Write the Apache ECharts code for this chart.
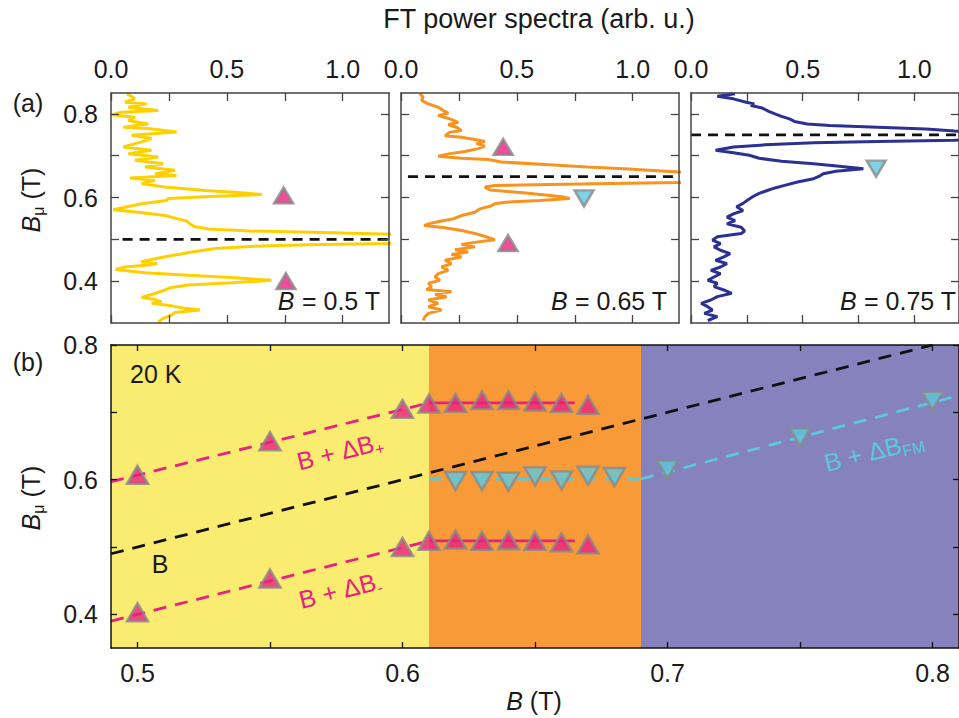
<!DOCTYPE html>
<html><head><meta charset="utf-8">
<script src="https://cdn.jsdelivr.net/npm/echarts@6/dist/echarts.min.js"></script>
<style>html,body{margin:0;padding:0;background:#fff}#c{width:959px;height:718px}</style>
</head><body><div id="c"></div>
<script>
// ---------- DATA ----------
// Panel (a): FT power spectra, B = 0.5, 0.65, 0.75 T  (Bmu in T, power in arb. u.)
const panelFields = [0.5, 0.65, 0.75];
const spec050Bmu = [0.848,0.844,0.836,0.828,0.824,0.816,0.808,0.804,0.798,0.792,0.784,0.776,0.768,0.765,0.757,0.749,0.741,0.733,0.721,0.713,0.705,0.697,0.689,0.681,0.673,0.665,0.657,0.653,0.647,0.641,0.633,0.625,0.617,0.612,0.607,0.602,0.598,0.593,0.585,0.577,0.571,0.565,0.557,0.549,0.544,0.537,0.531,0.525,0.520,0.515,0.512,0.504,0.490,0.487,0.483,0.478,0.470,0.462,0.455,0.450,0.446,0.442,0.438,0.434,0.428,0.420,0.414,0.409,0.402,0.396,0.391,0.385,0.379,0.371,0.361,0.356,0.351,0.347,0.341,0.335,0.331,0.325,0.319,0.311,0.303];
const spec050Pow = [0.068,0.082,0.103,0.060,0.154,0.075,0.204,0.046,0.003,0.103,0.075,0.161,0.053,0.161,0.283,0.089,0.175,0.132,0.053,0.175,0.075,0.204,0.103,0.225,0.147,0.276,0.190,0.283,0.082,0.190,0.132,0.233,0.405,0.549,0.650,0.405,0.247,0.240,0.132,0.060,0.010,0.118,0.233,0.290,0.326,0.340,0.360,0.420,0.600,1.000,1.250,1.600,1.200,0.850,0.600,0.450,0.350,0.270,0.200,0.160,0.130,0.200,0.150,0.060,0.020,0.147,0.333,0.520,0.693,0.520,0.333,0.261,0.233,0.190,0.132,0.190,0.218,0.175,0.261,0.319,0.384,0.276,0.261,0.225,0.204];
const spec065Bmu = [0.848,0.840,0.832,0.824,0.816,0.808,0.802,0.796,0.788,0.780,0.774,0.768,0.760,0.756,0.748,0.744,0.739,0.734,0.729,0.723,0.717,0.710,0.705,0.699,0.694,0.691,0.685,0.679,0.673,0.668,0.661,0.648,0.636,0.633,0.629,0.625,0.618,0.610,0.602,0.598,0.593,0.589,0.585,0.579,0.573,0.565,0.557,0.549,0.544,0.537,0.533,0.528,0.521,0.514,0.506,0.499,0.494,0.488,0.482,0.475,0.470,0.464,0.458,0.450,0.442,0.434,0.426,0.418,0.410,0.402,0.395,0.387,0.380,0.375,0.368,0.363,0.355,0.347,0.339,0.331,0.323,0.315,0.306];
const spec065Pow = [0.082,0.096,0.089,0.118,0.161,0.182,0.204,0.161,0.211,0.247,0.204,0.240,0.261,0.211,0.190,0.261,0.319,0.362,0.326,0.362,0.333,0.276,0.211,0.161,0.261,0.376,0.434,0.621,0.807,0.980,1.198,1.700,1.198,0.836,0.405,0.362,0.384,0.549,0.693,0.728,0.600,0.450,0.405,0.384,0.341,0.319,0.261,0.225,0.175,0.118,0.100,0.190,0.261,0.319,0.369,0.405,0.333,0.261,0.319,0.233,0.290,0.218,0.261,0.190,0.218,0.175,0.204,0.161,0.147,0.168,0.118,0.132,0.110,0.218,0.147,0.197,0.118,0.161,0.118,0.175,0.118,0.103,0.096];
const spec075Bmu = [0.848,0.842,0.836,0.828,0.824,0.820,0.814,0.806,0.800,0.794,0.788,0.782,0.776,0.772,0.768,0.764,0.759,0.748,0.737,0.734,0.731,0.726,0.721,0.713,0.707,0.701,0.694,0.687,0.681,0.675,0.669,0.663,0.657,0.652,0.645,0.637,0.629,0.623,0.618,0.610,0.602,0.594,0.586,0.578,0.569,0.561,0.553,0.545,0.537,0.529,0.520,0.514,0.506,0.498,0.490,0.482,0.474,0.466,0.458,0.450,0.442,0.434,0.426,0.418,0.410,0.402,0.395,0.387,0.379,0.371,0.363,0.355,0.347,0.339,0.331,0.323,0.315,0.306];
const spec075Pow = [0.197,0.118,0.190,0.247,0.283,0.268,0.319,0.348,0.376,0.405,0.441,0.463,0.520,0.621,0.836,1.052,1.180,1.700,1.180,0.836,0.549,0.333,0.190,0.110,0.190,0.261,0.305,0.405,0.549,0.664,0.772,0.649,0.592,0.578,0.549,0.477,0.419,0.376,0.348,0.305,0.276,0.254,0.233,0.204,0.233,0.190,0.161,0.197,0.161,0.225,0.240,0.225,0.118,0.096,0.132,0.103,0.132,0.175,0.147,0.110,0.161,0.132,0.089,0.132,0.103,0.075,0.118,0.103,0.147,0.182,0.118,0.089,0.046,0.075,0.096,0.060,0.118,0.075];
const dashStartPow = [0.05, 0.03, 0.0];
// peak markers in (a)
const upMarkPanel = [0, 0, 1, 1];
const upMarkPow   = [0.745, 0.755, 0.441, 0.462];
const upMarkBmu   = [0.605, 0.400, 0.721, 0.491];
const dnMarkPanel = [1, 2];
const dnMarkPow   = [0.790, 0.829];
const dnMarkBmu   = [0.598, 0.669];

// Panel (b): Bmu vs B at 20 K
const plusB   = [0.50,0.55,0.60,0.61,0.62,0.63,0.64,0.65,0.66,0.67];
const plusBmu = [0.607,0.657,0.705,0.713,0.714,0.718,0.718,0.716,0.714,0.711];
const minusB   = [0.50,0.55,0.60,0.61,0.62,0.63,0.64,0.65,0.66,0.67];
const minusBmu = [0.403,0.453,0.500,0.509,0.511,0.509,0.510,0.509,0.507,0.504];
const fmB   = [0.62,0.63,0.64,0.65,0.66,0.67,0.68,0.70,0.75,0.80];
const fmBmu = [0.598,0.598,0.597,0.605,0.599,0.606,0.604,0.615,0.663,0.717];
const plusDashB = [0.49, 0.61],  plusDashBmu = [0.597, 0.714];
const plusFlatB = [0.61, 0.665], plusFlatBmu = [0.714, 0.714];
const minusDashB = [0.49, 0.61],  minusDashBmu = [0.390, 0.509];
const minusFlatB = [0.61, 0.665], minusFlatBmu = [0.509, 0.509];
const fmFlatB = [0.61, 0.69], fmFlatBmu = [0.601, 0.601];
const fmDashB = [0.69, 0.81], fmDashBmu = [0.601, 0.725];
const diagB = [0.49, 0.80], diagBmu = [0.49, 0.80];
const bandEdges = [0.49, 0.61, 0.69, 0.81];

// tick labels
const topXTicks = [0, 0.25, 0.5, 0.75, 1.0], topXLabels = [0, 0.5, 1.0];
const topYTicks = [0.4, 0.5, 0.6, 0.7, 0.8], topYLabels = [0.4, 0.6, 0.8];
const botXTicks = [0.5, 0.55, 0.6, 0.65, 0.7, 0.75, 0.8], botXLabels = [0.5, 0.6, 0.7, 0.8];
const botYTicks = [0.4, 0.5, 0.6, 0.7, 0.8], botYLabels = [0.4, 0.6, 0.8];

// ---------- STYLE ----------
const FONT = '"Liberation Sans", Arial, Helvetica, sans-serif';
const TXT = '#1a1a1a';
const specColors = ['#ffd000', '#f7931e', '#2b3192'];
const PINK = '#e8207f', CYAN = '#5cc8dd', MGREY = '#8a8a8a';
const bandColors = ['#f9ec70', '#f89a38', '#8682bd'];
const topLeft = [111, 401, 691];

const zip = (a, b) => a.map((v, i) => [v, b[i]]);
const grids = [], xAxes = [], yAxes = [], series = [];

function mkX(gi, pos, labels, min, max, ticks, labs, col, tl) {
  return {type:'value', gridIndex:gi, position:pos, min:min, max:max, z:6,
    axisLine:{show:true, onZero:false, lineStyle:{color:col, width:1.5}},
    axisTick:{show:true, inside:true, length:tl, customValues:ticks, lineStyle:{color:col, width:1.3}},
    axisLabel:{show:labels, customValues:labs, margin:12, fontSize:25, fontFamily:FONT, color:TXT,
      formatter:v=>Number(v).toFixed(1)},
    splitLine:{show:false}};
}
function mkY(gi, pos, labels, min, max, ticks, labs, col, tl) {
  return {type:'value', gridIndex:gi, position:pos, min:min, max:max, z:6,
    axisLine:{show:true, onZero:false, lineStyle:{color:col, width:1.5}},
    axisTick:{show:true, inside:true, length:tl, customValues:ticks, lineStyle:{color:col, width:1.3}},
    axisLabel:{show:labels, customValues:labs, margin:13, fontSize:25, fontFamily:FONT, color:TXT,
      formatter:v=>Number(v).toFixed(1)},
    splitLine:{show:false}};
}

const specBmu = [spec050Bmu, spec065Bmu, spec075Bmu];
const specPow = [spec050Pow, spec065Pow, spec075Pow];
for (let i = 0; i < 3; i++) {
  grids.push({left: topLeft[i], top: 93, width: 278, height: 230});
  xAxes.push(mkX(i, 'top', true, 0, 1.2, topXTicks, topXLabels, '#444', 8));
  xAxes.push(mkX(i, 'bottom', false, 0, 1.2, topXTicks, topXLabels, '#444', 8));
  yAxes.push(mkY(i, 'left', i === 0, 0.3, 0.85, topYTicks, topYLabels, '#444', 8));
  yAxes.push(mkY(i, 'right', false, 0.3, 0.85, topYTicks, topYLabels, '#444', 8));
  series.push({type:'line', xAxisIndex:2*i, yAxisIndex:2*i, data: zip(specPow[i], specBmu[i]),
    showSymbol:false, symbol:'none', lineStyle:{color:specColors[i], width:3}, z:3, silent:true, clip:true});
  series.push({type:'line', xAxisIndex:2*i, yAxisIndex:2*i,
    data: [[dashStartPow[i], panelFields[i]], [1.2, panelFields[i]]],
    showSymbol:false, symbol:'none', lineStyle:{color:'#111', width:2.8, type:[10,7]}, z:4, silent:true});
  const up = upMarkPow.map((p, k) => [p, upMarkBmu[k]]).filter((d, k) => upMarkPanel[k] === i);
  const dn = dnMarkPow.map((p, k) => [p, dnMarkBmu[k]]).filter((d, k) => dnMarkPanel[k] === i);
  if (up.length) series.push({type:'scatter', xAxisIndex:2*i, yAxisIndex:2*i, data: up, symbol:'triangle',
    symbolSize:[19,16], itemStyle:{color:PINK, borderColor:MGREY, borderWidth:2.5}, z:5, silent:true});
  if (dn.length) series.push({type:'scatter', xAxisIndex:2*i, yAxisIndex:2*i, data: dn, symbol:'triangle',
    symbolRotate:180, symbolSize:[19,16], itemStyle:{color:CYAN, borderColor:MGREY, borderWidth:2.5}, z:5, silent:true});
}
// bottom grid
grids.push({left:111, top:345, width:854.4, height:303});
xAxes.push(mkX(3, 'bottom', true, 0.49, 0.81, botXTicks, botXLabels, '#111', 6));
xAxes.push(mkX(3, 'top', false, 0.49, 0.81, botXTicks, botXLabels, '#111', 6));
yAxes.push(mkY(3, 'left', true, 0.35, 0.8, botYTicks, botYLabels, '#111', 6));
yAxes.push(mkY(3, 'right', false, 0.35, 0.8, botYTicks, botYLabels, '#111', 6));
const bx = 6, by = 6;
series.push({type:'line', xAxisIndex:bx, yAxisIndex:by, data:[], z:1, silent:true,
  markArea:{silent:true, z:1, data: bandColors.map((c, k) => [
    {xAxis: bandEdges[k], yAxis: 0.35, itemStyle:{color:c, opacity:1}},
    {xAxis: bandEdges[k+1], yAxis: 0.8}])}});
function bline(xs, ys, color, dash) {
  series.push({type:'line', xAxisIndex:bx, yAxisIndex:by, data: zip(xs, ys), showSymbol:false, symbol:'none',
    lineStyle:{color:color, width:2.8, type: dash ? [13,9] : 'solid'}, z:3, silent:true});
}
bline(diagB, diagBmu, '#111', true);
bline(plusDashB, plusDashBmu, PINK, true);
bline(plusFlatB, plusFlatBmu, PINK, false);
bline(minusDashB, minusDashBmu, PINK, true);
bline(minusFlatB, minusFlatBmu, PINK, false);
bline(fmFlatB, fmFlatBmu, CYAN, true);
bline(fmDashB, fmDashBmu, CYAN, true);
series.push({type:'scatter', xAxisIndex:bx, yAxisIndex:by, data: zip(plusB, plusBmu), symbol:'triangle',
  symbolSize:[21,18], itemStyle:{color:PINK, borderColor:MGREY, borderWidth:2.5}, z:5, silent:true});
series.push({type:'scatter', xAxisIndex:bx, yAxisIndex:by, data: zip(minusB, minusBmu), symbol:'triangle',
  symbolSize:[21,18], itemStyle:{color:PINK, borderColor:MGREY, borderWidth:2.5}, z:5, silent:true});
series.push({type:'scatter', xAxisIndex:bx, yAxisIndex:by, data: zip(fmB, fmBmu), symbol:'triangle', symbolRotate:180,
  symbolSize:[21,18], itemStyle:{color:CYAN, borderColor:MGREY, borderWidth:2.5}, z:5, silent:true});

// ---------- TEXT ----------
function rich(size, color) {
  return {
    n:{fontSize:size, fontFamily:FONT, color:color, lineHeight:size+6},
    i:{fontSize:size, fontFamily:FONT, color:color, fontStyle:'italic', lineHeight:size+6},
    s:{fontSize:Math.round(size*0.62), fontFamily:FONT, color:color, lineHeight:Math.round(size*0.62), verticalAlign:'bottom'}
  };
}
function txt(x, y, t, size, color, align, rot) {
  return {type:'text', x:x, y:y, rotation: rot || 0, z:20, silent:true,
    style:{text:t, rich:rich(size, color), align:align || 'center', verticalAlign:'middle', fill:color}};
}
const graphics = [
  txt(539, 19, '{n|FT power spectra (arb. u.)}', 27, TXT),
  txt(28, 103, '{n|(a)}', 25, TXT),
  txt(28, 362, '{n|(b)}', 25, TXT),
  txt(31, 200, '{i|B}{s|μ}{n| (T)}', 25, TXT, 'center', Math.PI/2),
  txt(31, 498, '{i|B}{s|μ}{n| (T)}', 25, TXT, 'center', Math.PI/2),
  txt(534, 701, '{i|B}{n| (T)}', 25, TXT),
  txt(380, 301, '{i|B}{n| = 0.5 T}', 25, TXT, 'right'),
  txt(667, 301, '{i|B}{n| = 0.65 T}', 25, TXT, 'right'),
  txt(956, 301, '{i|B}{n| = 0.75 T}', 25, TXT, 'right'),
  txt(130, 374, '{n|20 K}', 25, TXT, 'left'),
  txt(160, 564, '{n|B}', 25, TXT),
  txt(340, 451, '{n|B + ΔB}{s|+}', 25, PINK, 'center', 0.245),
  txt(340, 590, '{n|B + ΔB}{s|-}', 25, PINK, 'center', 0.245),
  txt(874, 451, '{n|B + ΔB}{s|FM}', 25, CYAN, 'center', 0.245)
];

const chart = echarts.init(document.getElementById('c'), null, {renderer:'svg', width:959, height:718});
chart.setOption({animation:false, backgroundColor:'#fff', grid:grids, xAxis:xAxes, yAxis:yAxes, series:series, graphic:graphics});
</script>
</body></html>
